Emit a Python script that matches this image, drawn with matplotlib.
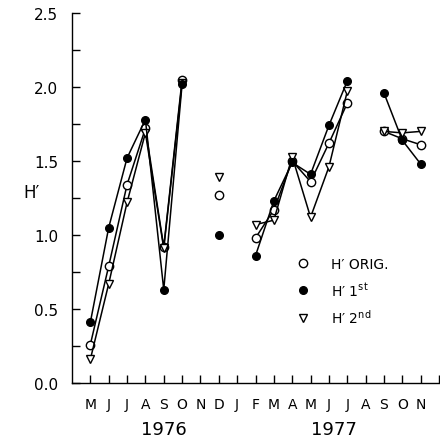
import numpy as np
import matplotlib
matplotlib.use('Agg')
import matplotlib.pyplot as plt
import matplotlib.transforms as mtrans

#- month labels, May 1976 .. Nov 1977
months = ['M', 'J', 'J', 'A', 'S', 'O', 'N', 'D', 'J', 'F',
          'M', 'A', 'M', 'J', 'J', 'A', 'S', 'O', 'N']
years = ['1976', '1977']
year_pos = [4, 13.25]

nan = np.nan
#- H' values (nan = no sample / break in line)
h_orig = [0.26, 0.79, 1.34, 1.72, 0.92, 2.05, nan, 1.27, nan, 0.98,
          1.17, 1.50, 1.36, 1.62, 1.89, nan, 1.70, 1.65, 1.61]
h_1st = [0.41, 1.05, 1.52, 1.78, 0.63, 2.02, nan, 1.00, nan, 0.86,
         1.23, 1.49, 1.41, 1.74, 2.04, nan, 1.96, 1.64, 1.48]
h_2nd = [0.16, 0.67, 1.22, 1.69, 0.91, 2.03, nan, 1.39, nan, 1.07,
         1.10, 1.53, 1.12, 1.46, 1.97, nan, 1.70, 1.69, 1.70]

x = np.arange(len(months))

plt.rcParams['font.family'] = 'DejaVu Sans'
fig = plt.figure(figsize=(4.40, 4.39), dpi=100)
ax = fig.add_axes([72/440, 55/439, 367/440, 370/439])

# lines + markers for each series
ax.plot(x, h_orig, '-', color='black', lw=1.1, marker='o', ms=6,
        mfc='white', mec='black', mew=1.0, zorder=3, label='H\u2032 ORIG.')
ax.plot(x, h_2nd, '-', color='black', lw=1.1, marker='v', ms=5.5,
        mfc='white', mec='black', mew=1.0, zorder=4, label='H\u2032 2$^{\\rm nd}$')
ax.plot(x, h_1st, '-', color='black', lw=1.1, marker='o', ms=5.5,
        mfc='black', mec='black', zorder=5, label='H\u2032 1$^{\\rm st}$')

# axis limits and ticks
ax.set_xlim(-1, 19)
ax.set_ylim(0, 2.5)
ax.set_xticks(np.arange(0, 20))
ax.set_xticklabels(months + [''], fontsize=10)
ax.set_yticks([0.0, 0.5, 1.0, 1.5, 2.0, 2.5])
ax.set_yticklabels(['0.0', '0.5', '1.0', '1.5', '2.0', '2.5'], fontsize=11)
ax.set_yticks(np.arange(0.25, 2.5, 0.5), minor=True)
ax.tick_params(axis='both', which='both', direction='in', length=6, width=1.0)
ax.tick_params(axis='x', pad=10)
ax.tick_params(axis='y', pad=10)

for s in ['top', 'right']:
    ax.spines[s].set_visible(False)
for s in ['left', 'bottom']:
    ax.spines[s].set_linewidth(1.0)

# y label
ax.text(-0.11, 0.515, 'H\u2032', transform=ax.transAxes, fontsize=12,
        ha='center', va='center')

# year labels under month ticks
trans = mtrans.blended_transform_factory(ax.transData, ax.transAxes)
for yr, xp in zip(years, year_pos):
    ax.text(xp, -0.125, yr, transform=trans, fontsize=13, ha='center', va='center')

# legend: markers only
h, l = ax.get_legend_handles_labels()
order = [0, 2, 1]
leg = ax.legend([h[i] for i in order], [l[i] for i in order], loc='upper left',
                bbox_to_anchor=(0.61, 0.36), frameon=False, fontsize=10,
                handlelength=0, handletextpad=2.0, labelspacing=0.7,
                borderpad=0)
for lh in leg.legend_handles:
    lh.set_linestyle('none')

fig.savefig('out.png', dpi=100)
